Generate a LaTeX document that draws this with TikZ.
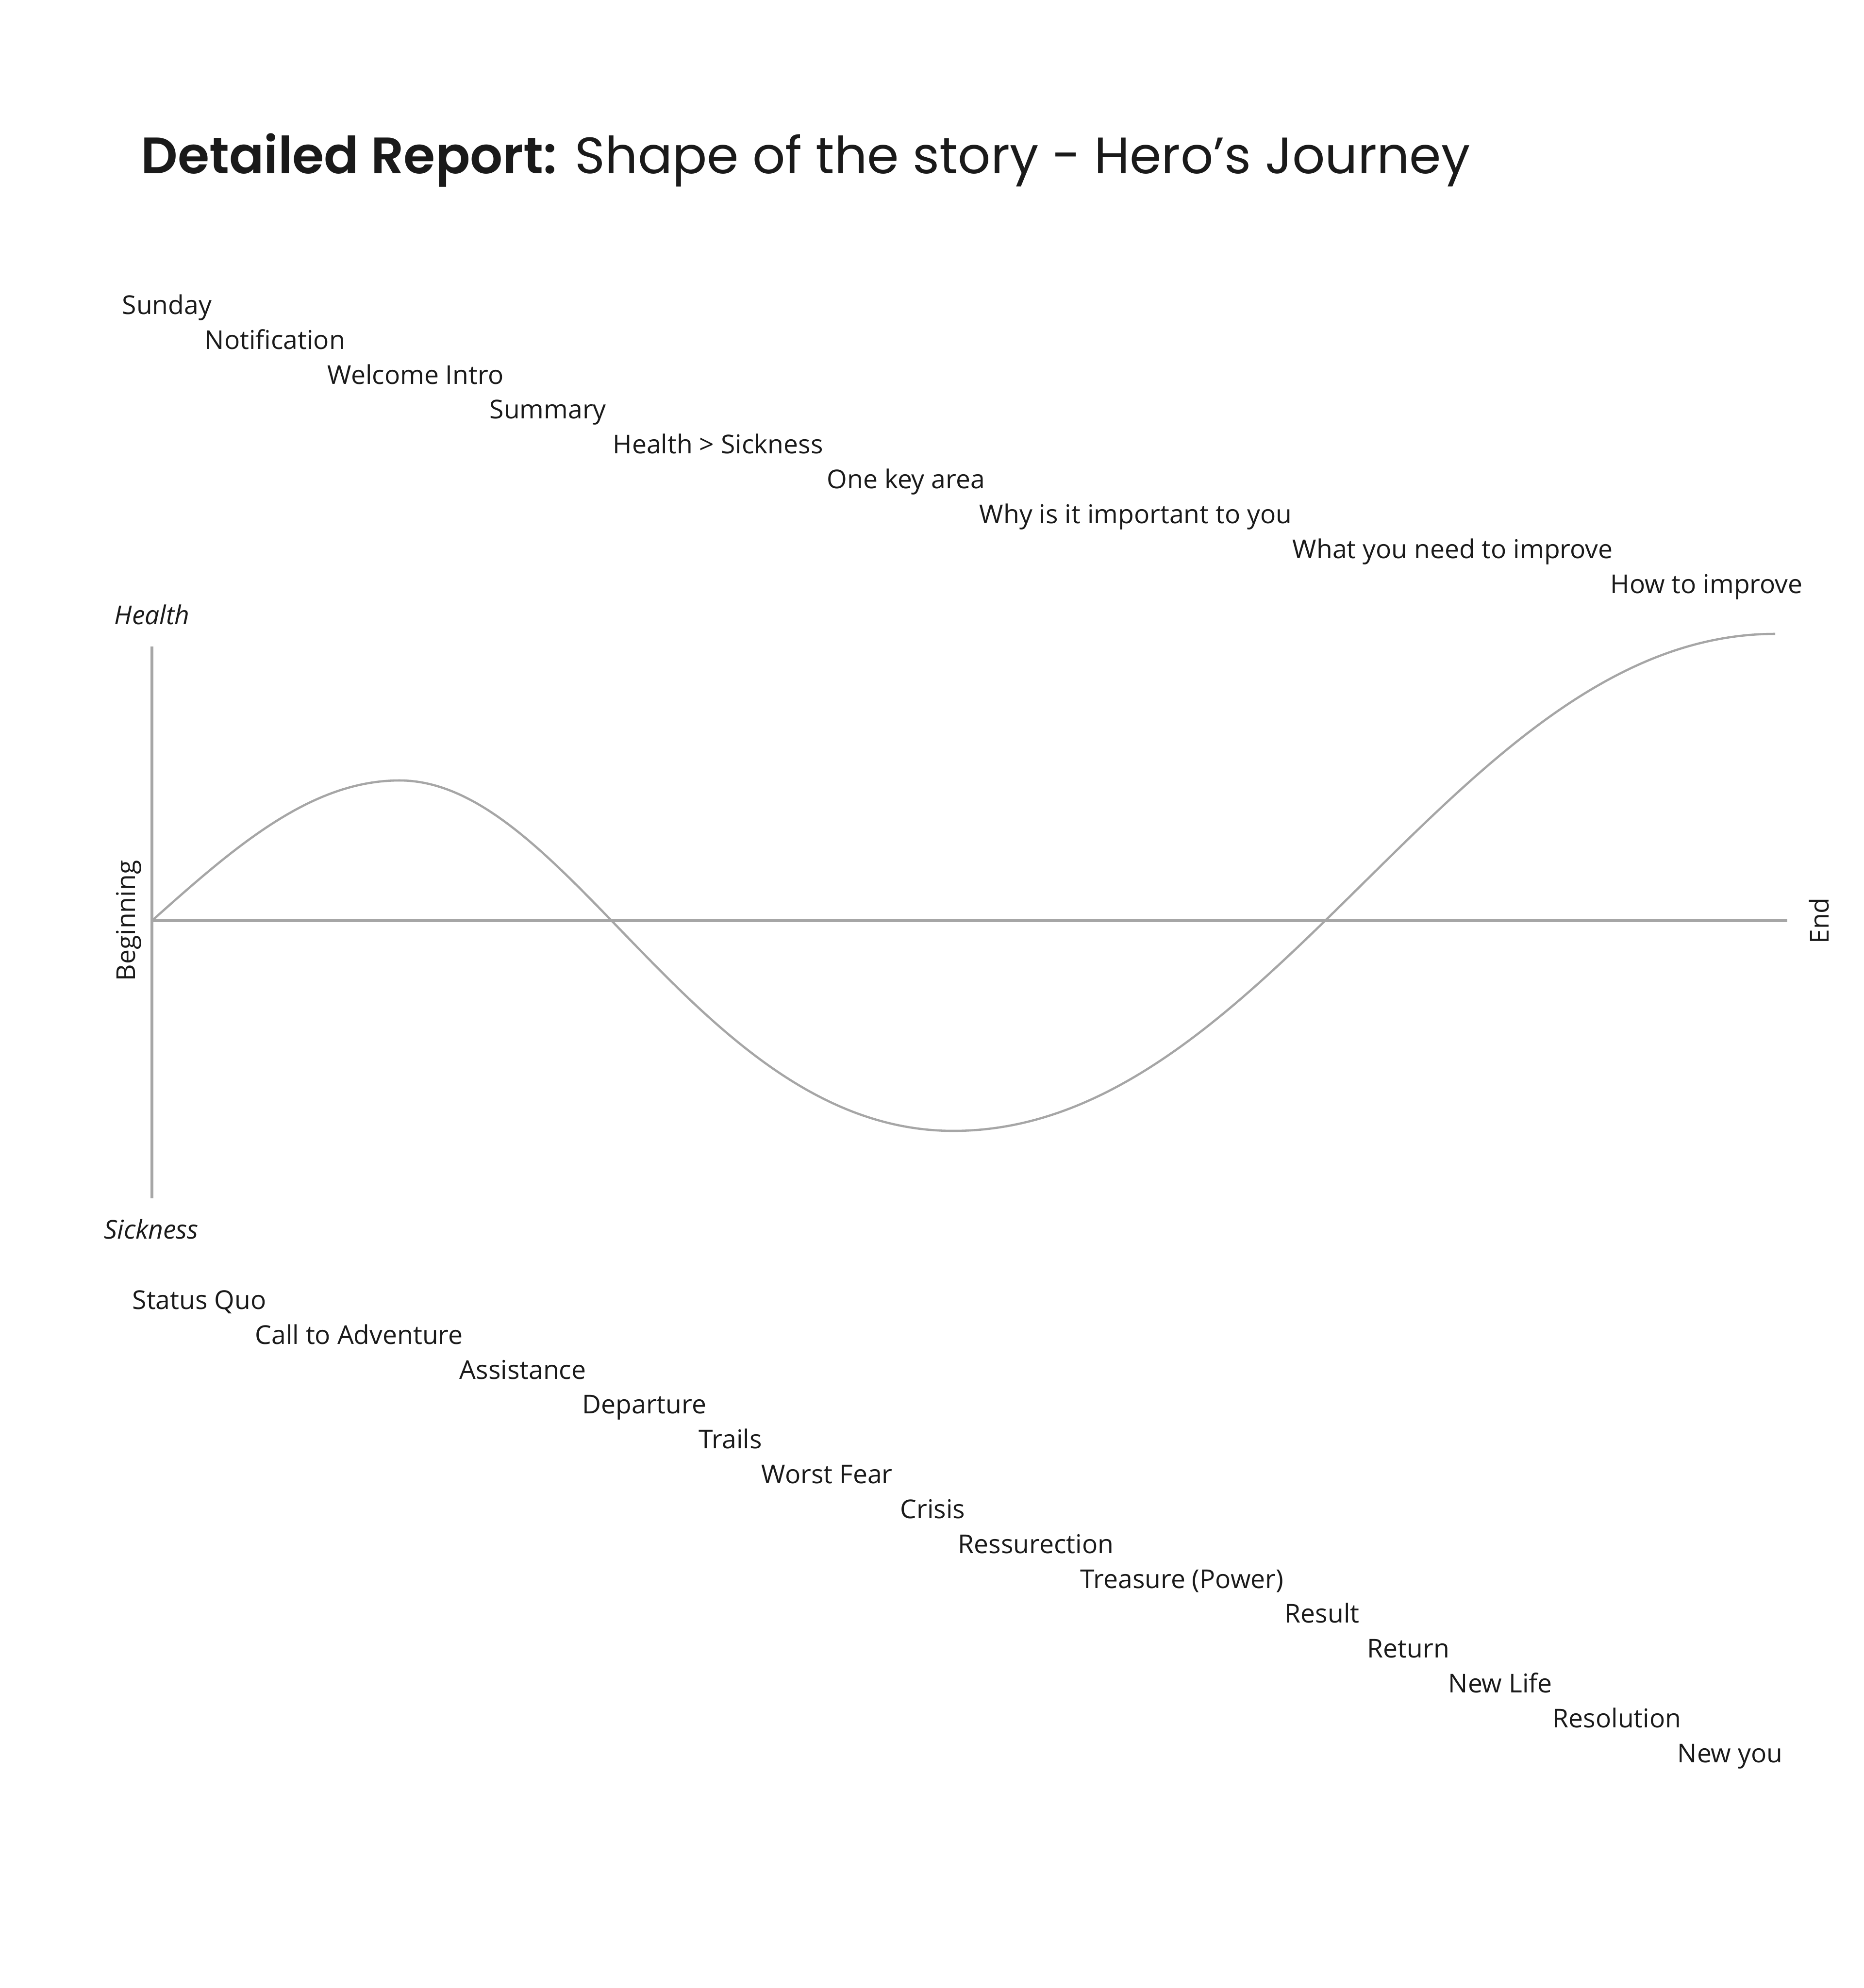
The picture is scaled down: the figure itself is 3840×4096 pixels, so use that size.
\documentclass[tikz,border=0pt]{standalone}
\usepackage{fontspec}
\setmainfont{Open Sans}
\newfontfamily\titlefont{Poppins}
\newfontfamily\titlebold{Poppins SemiBold}
\definecolor{ink}{HTML}{1A1A1A}
\definecolor{axisgray}{HTML}{A6A6A6}
\begin{document}
\begin{tikzpicture}[x=0.01cm,y=-0.01cm,
  lbl/.style={anchor=base west,inner sep=0pt,text=ink,font=\fontsize{15.2}{18}\selectfont},
  ilbl/.style={lbl,font=\fontsize{15.2}{18}\selectfont\itshape},
  rlbl/.style={anchor=base,inner sep=0pt,rotate=90,text=ink,font=\fontsize{15.2}{18}\selectfont},
  axisline/.style={draw=axisgray,line width=1.5pt},
  curveline/.style={draw=axisgray,line width=1.3pt}]
\fill[white] (0,0) rectangle (3840,4096);
\useasboundingbox (0,0) rectangle (3840,4096);

% title
\node[anchor=base west,inner sep=0pt,text=ink,font=\titlefont\fontsize{30}{36}\selectfont] (title) at (290,357) {{\titlebold Detailed Report:} Shape of the story - Hero’s Journey};

% top labels
\node[lbl] (t1) at (251,647) {Sunday};
\node[lbl] (t2) at (421,719) {Notification};
\node[lbl] (t3) at (674,791) {Welcome Intro};
\node[lbl] (t4) at (1008,862) {Summary};
\node[lbl] (t5) at (1262,934) {Health > Sickness};
\node[lbl] (t6) at (1703,1006) {One key area};
\node[lbl] (t7) at (2017,1078) {Why is it important to you};
\node[lbl] (t8) at (2662,1150) {What you need to improve};
\node[lbl] (t9) at (3317,1222) {How to improve};

% axis labels
\node[ilbl] (health) at (235,1286) {Health};
\node[ilbl] (sick) at (214,2552) {Sickness};
\node[rlbl] (begin) at (278,1897) {Beginning};
\node[rlbl] (end) at (3767,1897) {End};

% axes
\coordinate (o) at (313,1897);
\coordinate (ytop) at (313,1332);
\coordinate (ybot) at (313,2469);
\coordinate (xend) at (3682,1897);
\draw[axisline] (ytop) -- (ybot);
\draw[axisline] (o) -- (xend);

% curve
\coordinate (peak) at (823,1608);
\coordinate (trough) at (1964,2330);
\coordinate (fin) at (3657,1306);
\draw[curveline] (o) .. controls (483,1745) and (640,1608) .. (peak)
  .. controls (1173,1608) and (1444,2330) .. (trough)
  .. controls (2620,2330) and (3000,1306) .. (fin);

% bottom labels
\node[lbl] (b1) at (272,2697) {Status Quo};
\node[lbl] (b2) at (525,2769) {Call to Adventure};
\node[lbl] (b3) at (946,2841) {Assistance};
\node[lbl] (b4) at (1199,2912) {Departure};
\node[lbl] (b5) at (1439,2984) {Trails};
\node[lbl] (b6) at (1568,3056) {Worst Fear};
\node[lbl] (b7) at (1854,3128) {Crisis};
\node[lbl] (b8) at (1973,3200) {Ressurection};
\node[lbl] (b9) at (2225,3272) {Treasure (Power)};
\node[lbl] (b10) at (2646,3343) {Result};
\node[lbl] (b11) at (2816,3415) {Return};
\node[lbl] (b12) at (2983,3487) {New Life};
\node[lbl] (b13) at (3198,3559) {Resolution};
\node[lbl] (b14) at (3455,3631) {New you};
\end{tikzpicture}
\end{document}
